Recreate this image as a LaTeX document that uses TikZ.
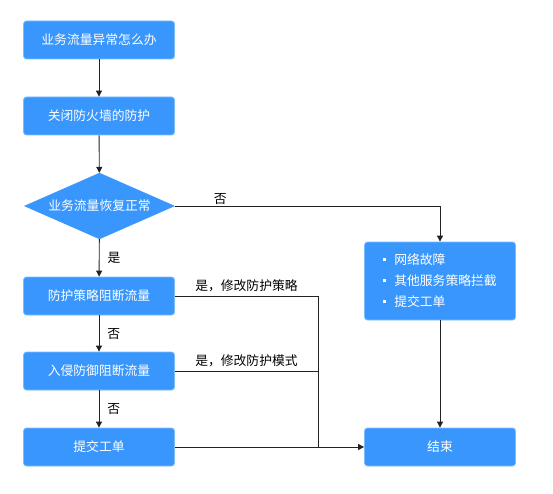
\documentclass[tikz,border=0pt]{standalone}
\usepackage{fontspec}
\newfontfamily\cjk{Noto Sans CJK SC}
\usetikzlibrary{shapes.geometric,arrows.meta}
\definecolor{boxblue}{RGB}{57,150,253}
\definecolor{boxedge}{RGB}{125,188,255}
\definecolor{linec}{RGB}{34,34,34}
\newcommand\flowbul{\raisebox{3.5pt}{\rule{3pt}{3pt}}\hspace{8pt}}
\begin{document}
\begin{tikzpicture}[x=1pt,y=-1pt,
 flowbox/.style={draw=boxedge, fill=boxblue, rounded corners=3pt, minimum width=151pt, minimum height=38pt, text=white, font=\cjk\fontsize{12.8}{15}\selectfont, inner sep=0pt, line width=0.8pt},
 decision/.style={diamond, aspect=2.27, fill=boxblue, draw=boxblue, minimum width=150pt, minimum height=66pt, inner sep=0pt, text=white, font=\cjk\fontsize{12.8}{15}\selectfont},
 conn/.style={draw=linec, line width=0.9pt},
 arr/.style={conn, -{Triangle[length=6pt,width=6pt]}},
 lbl/.style={font=\cjk\fontsize{12.8}{15}\selectfont, text=black, inner sep=2pt}]
\useasboundingbox (0,0) rectangle (553,494);
\fill[white] (0,0) rectangle (553,494);
\node[flowbox] (start) at (99,40) {业务流量异常怎么办};
\node[flowbox] (close) at (99,116) {关闭防火墙的防护};
\node[decision] (check) at (99.5,206) {业务流量恢复正常};
\node[flowbox] (policy) at (99,296) {防护策略阻断流量};
\node[flowbox] (ips) at (99,371) {入侵防御阻断流量};
\node[flowbox] (ticket) at (99,447) {提交工单};
\node[flowbox, minimum height=78pt, align=left, font=\cjk\fontsize{12.8}{21}\selectfont] (other) at (440,281) {\flowbul 网络故障\\\flowbul 其他服务策略拦截\\\flowbul 提交工单};
\node[flowbox] (end) at (440,447) {结束};
\coordinate (j) at (318,447);
\draw[arr] (start) -- (close);
\draw[arr] (close) -- (check);
\draw[arr] (check) -- node[lbl, right=6pt]{是} (policy);
\draw[arr] (policy) -- node[lbl, right=6pt]{否} (ips);
\draw[arr] (ips) -- node[lbl, right=6pt]{否} (ticket);
\draw[arr] (check.east) -| node[lbl, pos=0.086, above=-1pt]{否} (other.north);
\draw[conn] (policy.east) -- node[lbl, above=2pt]{是，修改防护策略} (policy.east -| j) -- (j);
\draw[conn] (ips.east) -- node[lbl, above=2pt]{是，修改防护模式} (ips.east -| j);
\draw[arr] (ticket) -- (end);
\draw[arr] (other) -- (end);
\end{tikzpicture}
\end{document}
